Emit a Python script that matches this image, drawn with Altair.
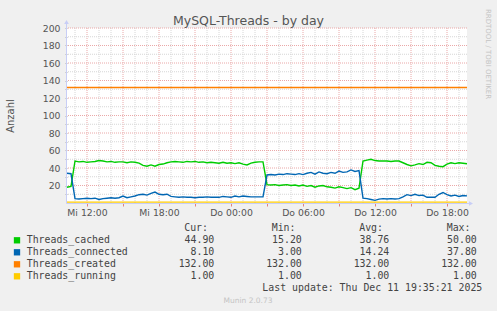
import altair as alt
import pandas as pd

# ---------------- data ----------------
series_names = ["Threads_cached", "Threads_connected", "Threads_created", "Threads_running"]
series_colors = ["#00CC00", "#0066B3", "#FF8000", "#FFCC00"]

times = pd.date_range("2025-12-10 10:20", periods=101, freq="20min")

cached = [18, 19, 48, 47, 47.5, 46.5, 47, 47.5, 48.5, 48,
          47, 47.5, 46.5, 47, 47, 46, 47, 46.5, 45.5, 43,
          42, 43.5, 42, 44, 44.5, 46, 47, 47.5, 47, 46.5,
          47.5, 47, 47.5, 46.5, 47, 46, 46.5, 46, 45.5, 46.5,
          45.5, 46, 45, 46, 44.5, 43.5, 45.5, 46.5, 47, 47,
          21, 20.5, 21, 20, 20.5, 21, 20, 20.5, 19.5, 20.5,
          19, 20, 18, 19.5, 20, 18.5, 18, 17, 18.5, 17.5,
          16.5, 17.5, 15.2, 17, 48, 49, 50, 48.5, 48, 48,
          48, 47.5, 48, 48, 46, 44, 42.5, 43.5, 45, 44,
          46.5, 46, 43, 42, 41.5, 44.5, 46, 45, 46, 45.5,
          44.9]

connected = [34, 33.5, 5, 4.5, 5, 5.5, 5, 5.5, 4, 5,
             5.5, 6, 5.5, 6, 8, 6, 7, 8, 9.5, 10,
             9, 11, 12.5, 10, 9.5, 10, 7.5, 7, 6.5, 7,
             6.5, 6.5, 6, 6.5, 6.5, 7, 6.5, 6.5, 6.5, 7.5,
             7, 6.5, 8, 7, 8, 7.5, 7, 7, 7, 7,
             32, 32.5, 32, 33, 32.5, 33.5, 33, 32.5, 33.5, 32.5,
             34, 35, 33, 35.5, 34, 33.5, 35, 34, 36.5, 35,
             35.5, 37.8, 36, 37, 5.5, 5, 4, 3, 4.5, 5,
             4.5, 5, 4.5, 5, 7, 9.5, 8.5, 10, 8.5, 9,
             6.5, 6.5, 6.5, 10, 12, 9.5, 8, 9, 7.5, 8.5,
             8.1]

created_level = [132.0, 132.0]
running_level = [1.0, 1.0]
edge_times = [times[0], times[-1]]

cur_vals = [44.90, 8.10, 132.00, 1.00]
min_vals = [15.20, 3.00, 132.00, 1.00]
avg_vals = [38.76, 14.24, 132.00, 1.00]
max_vals = [50.00, 37.80, 132.00, 1.00]
stat_headers = ["Cur:", "Min:", "Avg:", "Max:"]

title_text = "MySQL-Threads - by day"
y_title_text = "Anzahl"
side_text = "RRDTOOL / TOBI OETIKER"
last_update_text = "Last update: Thu Dec 11 19:35:21 2025"
footer_text = "Munin 2.0.73"

# ---------------- tables ----------------
def ts(t):
    return t.strftime("%Y-%m-%dT%H:%M:%S")


rows = []
for t, v in zip(times, cached):
    rows.append({"time": ts(t), "series": series_names[0], "value": v})
for t, v in zip(times, connected):
    rows.append({"time": ts(t), "series": series_names[1], "value": v})
for t, v in zip(edge_times, created_level):
    rows.append({"time": ts(t), "series": series_names[2], "value": v})
for t, v in zip(edge_times, running_level):
    rows.append({"time": ts(t), "series": series_names[3], "value": v})
lines_df = pd.DataFrame(rows)

# grid positions (axis structure)
hour_ticks = pd.date_range("2025-12-10 11:00", "2025-12-11 19:00", freq="h")
xgrid_df = pd.DataFrame({"t": [ts(t) for t in hour_ticks],
                         "major": [int(t.hour % 3 == 0) for t in hour_ticks]})
ygrid_df = pd.DataFrame({"v": list(range(10, 201, 10))})
ygrid_df["major"] = (ygrid_df["v"] % 20 == 0).astype(int)


def dt(t):
    return alt.DateTime(year=t.year, month=t.month, date=t.day, hours=t.hour, minutes=t.minute)


tick3 = [dt(t) for t in hour_ticks if t.hour % 3 == 0]

one = pd.DataFrame({"k": [0]})

color_scale = alt.Scale(domain=series_names, range=series_colors)
MAJOR = "#eaa8a8"
MINOR = "#d6d6d6"
AXIS = "#c8cef6"
TXT = "#555555"
MONO = "DejaVu Sans Mono"
LEG = "#444444"

x_scale = alt.Scale(domain=[dt(times[0]), dt(times[-1])], nice=False)
y_scale = alt.Scale(domain=[0, 200], nice=False, zero=True)

wd = "timeFormat(datum.value, '%a')"
de_day = (f"({wd} == 'Mon' ? 'Mo' : {wd} == 'Tue' ? 'Di' : {wd} == 'Wed' ? 'Mi' : "
          f"{wd} == 'Thu' ? 'Do' : {wd} == 'Fri' ? 'Fr' : {wd} == 'Sat' ? 'Sa' : 'So')")

x_axis = alt.Axis(
    title=None,
    values=tick3,
    grid=False,
    tickColor="#e08080",
    tickSize=3,
    domain=False,
    labelExpr=f"hours(datum.value) % 6 == 0 ? {de_day} + ' ' + timeFormat(datum.value, '%H:%M') : ''",
    labelFont="DejaVu Sans",
    labelFontSize=9.3,
    labelColor=TXT,
    labelPadding=2,
    labelOverlap=False,
    labelFlush=False,
    labelBound=False,
)

y_axis = alt.Axis(
    title=None,
    values=list(range(10, 201, 10)),
    grid=False,
    tickColor="#b0b0b0",
    tickSize=2,
    domain=False,
    labelExpr="datum.value % 20 == 0 ? datum.label : ''",
    labelFont="DejaVu Sans",
    labelFontSize=9.3,
    labelColor=TXT,
    labelPadding=5,
    labelOverlap=False,
    labelFlush=False,
    labelBound=False,
)

xgrid = alt.Chart(xgrid_df).mark_rule(strokeDash=[1, 1], strokeWidth=1).encode(
    x=alt.X("t:T", scale=x_scale, axis=x_axis),
    color=alt.condition("datum.major == 1", alt.value(MAJOR), alt.value(MINOR)),
)
ygrid = alt.Chart(ygrid_df).mark_rule(strokeDash=[1, 1], strokeWidth=1).encode(
    y=alt.Y("v:Q", scale=y_scale, axis=y_axis),
    color=alt.condition("datum.major == 1", alt.value(MAJOR), alt.value(MINOR)),
)

lines = alt.Chart(lines_df).mark_line(strokeWidth=1.4).encode(
    x=alt.X("time:T", scale=x_scale, axis=x_axis),
    y=alt.Y("value:Q", scale=y_scale, axis=y_axis),
    color=alt.Color("series:N", scale=color_scale, legend=None),
)

# axis lines with arrows
y_line = alt.Chart(one).mark_rule(color=AXIS, strokeWidth=1).encode(
    x=alt.value(-0.5), y=alt.value(-5), y2=alt.value(175.5))
x_line = alt.Chart(one).mark_rule(color=AXIS, strokeWidth=1).encode(
    x=alt.value(-0.5), x2=alt.value(402), y=alt.value(175.5))
y_arrow = alt.Chart(one).mark_point(shape="triangle-up", filled=True, size=22, color=AXIS, opacity=1).encode(
    x=alt.value(-0.5), y=alt.value(-6))
x_arrow = alt.Chart(one).mark_point(shape="triangle-right", filled=True, size=22, color=AXIS, opacity=1).encode(
    x=alt.value(404), y=alt.value(175.5))


def label(txt, x, y, font="DejaVu Sans", size=9.9, color=LEG, align="left", angle=0, baseline="alphabetic"):
    kw = dict(font=font, fontSize=size, color=color, align=align, baseline=baseline)
    if angle:
        kw["angle"] = angle
    return alt.Chart(one).mark_text(**kw).encode(
        x=alt.value(x), y=alt.value(y), text=alt.value(txt))


layers = [xgrid, ygrid, y_line, x_line, y_arrow, x_arrow, lines]
layers.append(label(title_text, 181.5, -3, size=12.5, color=TXT, align="center"))
layers.append(label(y_title_text, -56, 88, size=10, color=TXT, align="center", angle=270, baseline="middle"))
layers.append(label(side_text, 421, 26, size=7, color="#c4c4c4", align="center", angle=90, baseline="middle"))

stat_cols = [cur_vals, min_vals, avg_vals, max_vals]
for k, h in enumerate(stat_headers):
    layers.append(label(h, 141 + 87.5 * k, 203, font=MONO, align="right"))
for r, name in enumerate(series_names):
    ly = 215 + 12 * r
    layers.append(
        alt.Chart(one).mark_square(size=40, filled=True, opacity=1, color=series_colors[r]).encode(
            x=alt.value(-50), y=alt.value(ly - 2.7))
    )
    layers.append(label(name, -40.3, ly, font=MONO))
    for k, col in enumerate(stat_cols):
        layers.append(label(f"{col[r]:.2f}", 147.3 + 87.5 * k, ly, font=MONO, align="right"))

layers.append(label(last_update_text, 415.3, 263, font=MONO, align="right"))
layers.append(label(footer_text, 181, 275, size=7.5, color="#c4c4c4", align="center"))

chart = alt.layer(*layers).properties(
    width=400,
    height=175,
    autosize=alt.AutoSizeParams(type="none"),
    padding={"left": 67, "top": 28, "right": 30, "bottom": 108},
    background="#F0F0F0",
).configure_view(fill="#FFFFFF", stroke=None)

chart.save("out.html", embed_options={"renderer": "svg", "actions": False})
